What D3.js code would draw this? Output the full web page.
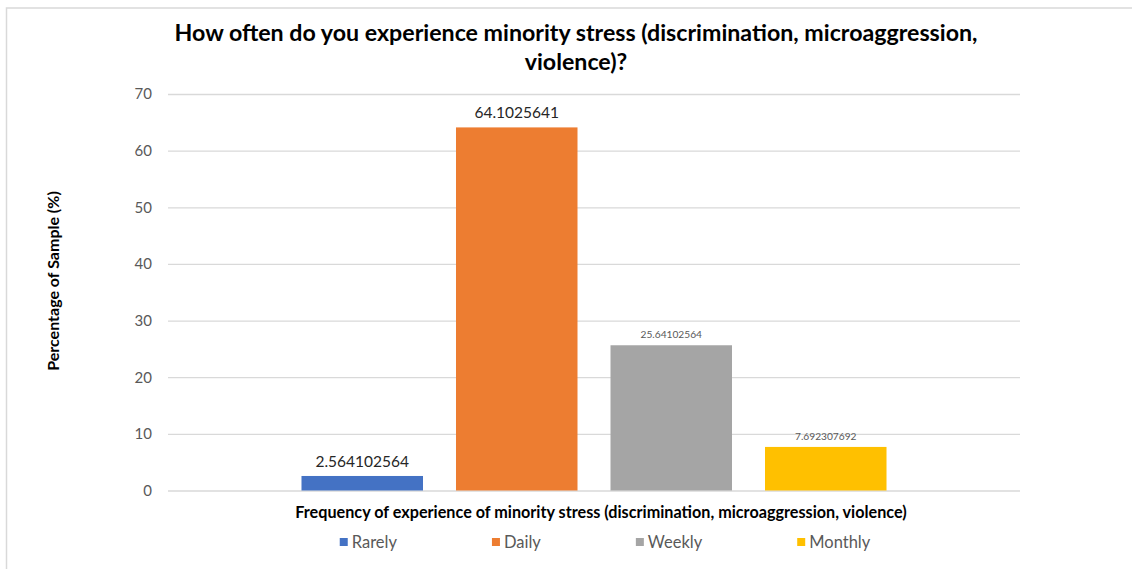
<!DOCTYPE html>
<html>
<head>
<meta charset="utf-8">
<script src="https://cdn.jsdelivr.net/npm/d3@7"></script>
<style>
  html, body { margin: 0; padding: 0; background: #fff; }
  svg { display: block; font-family: Lato, "Open Sans", sans-serif; }
</style>
</head>
<body>
<svg id="chart" width="1132" height="569"></svg>
<script>
// Survey responses: share of sample per frequency of minority stress
const categories = ["Rarely", "Daily", "Weekly", "Monthly"];
const values = [2.564102564, 64.1025641, 25.64102564, 7.692307692];
const valueLabels = ["2.564102564", "64.1025641", "25.64102564", "7.692307692"];
const colors = ["#4472C4", "#ED7D31", "#A5A5A5", "#FFC000"];
const labelSizes = [15.5, 15.5, 10.2, 10.2];
const labelColors = ["#262626", "#262626", "#595959", "#595959"];
const yTicks = [0, 10, 20, 30, 40, 50, 60, 70];

const titleLines = [
  "How often do you experience minority stress (discrimination, microaggression,",
  "violence)?"
];
const xTitle = "Frequency of experience of minority stress (discrimination, microaggression, violence)";
const yTitle = "Percentage of Sample (%)";

const svg = d3.select("#chart");
const W = 1132, H = 569;
const plot = { left: 168, right: 1020, top: 94, bottom: 490.5 };

// outer chart frame
svg.append("rect")
  .attr("x", 6.5).attr("y", 8)
  .attr("width", W + 10).attr("height", H + 10)
  .attr("fill", "#fff")
  .attr("stroke", "#d9d9d9").attr("stroke-width", 1.5);

const y = d3.scaleLinear().domain([0, 70]).range([plot.bottom, plot.top]);
const x = d3.scaleBand()
  .domain(categories)
  .range([plot.left, plot.right])
  .paddingInner(0.2136)
  .paddingOuter(0.864);

// gridlines + tick labels via axis
const yAxis = d3.axisLeft(y)
  .tickValues(yTicks)
  .tickSize(-(plot.right - plot.left))
  .tickPadding(16)
  .tickFormat(d3.format("d"));

const gy = svg.append("g")
  .attr("transform", `translate(${plot.left},0)`)
  .call(yAxis);
gy.select(".domain").remove();
gy.selectAll(".tick line").attr("stroke", "#d9d9d9").attr("stroke-width", 1.3);
gy.selectAll(".tick text")
  .attr("fill", "#595959")
  .style("font-size", "15px")
  .style("font-family", "Lato, 'Open Sans', sans-serif");

// bars
svg.append("g").selectAll("rect")
  .data(categories)
  .join("rect")
  .attr("x", d => x(d))
  .attr("width", x.bandwidth())
  .attr("y", (d, i) => y(values[i]))
  .attr("height", (d, i) => y(0) - y(values[i]))
  .attr("fill", (d, i) => colors[i]);

// value labels
svg.append("g").selectAll("text")
  .data(categories)
  .join("text")
  .attr("x", d => x(d) + x.bandwidth() / 2)
  .attr("y", (d, i) => y(values[i]) - (labelSizes[i] > 12 ? 9 : 7))
  .attr("text-anchor", "middle")
  .attr("fill", (d, i) => labelColors[i])
  .style("font-size", (d, i) => labelSizes[i] + "px")
  .text((d, i) => valueLabels[i]);

// title
svg.append("g").selectAll("text")
  .data(titleLines)
  .join("text")
  .attr("x", 576)
  .attr("y", (d, i) => 41 + i * 29)
  .attr("text-anchor", "middle")
  .attr("fill", "#000")
  .style("font-size", "23.2px")
  .style("font-weight", "bold")
  .text(d => d);

// axis titles
svg.append("text")
  .attr("x", 601).attr("y", 518)
  .attr("text-anchor", "middle")
  .attr("fill", "#000")
  .style("font-size", "16.2px")
  .style("font-weight", "bold")
  .text(xTitle);

svg.append("text")
  .attr("transform", "translate(59,281) rotate(-90)")
  .attr("text-anchor", "middle")
  .attr("fill", "#000")
  .style("font-size", "16px")
  .style("font-weight", "bold")
  .text(yTitle);

// legend: equal gaps between entries, centred under the plot
const legend = svg.append("g");
const items = legend.selectAll("g")
  .data(categories)
  .join("g");
items.append("rect")
  .attr("width", 8).attr("height", 8)
  .attr("y", 538)
  .attr("fill", (d, i) => colors[i]);
items.append("text")
  .attr("x", 12)
  .attr("y", 547.5)
  .attr("fill", "#595959")
  .style("font-size", "16.5px")
  .text(d => d);

const widths = [];
items.each(function () { widths.push(12 + this.querySelector("text").getComputedTextLength()); });
const gap = 95;
const total = d3.sum(widths) + gap * (widths.length - 1);
let cursor = 605 - total / 2;
items.attr("transform", (d, i) => {
  const tx = cursor;
  cursor += widths[i] + gap;
  return `translate(${tx},0)`;
});
</script>
</body>
</html>
